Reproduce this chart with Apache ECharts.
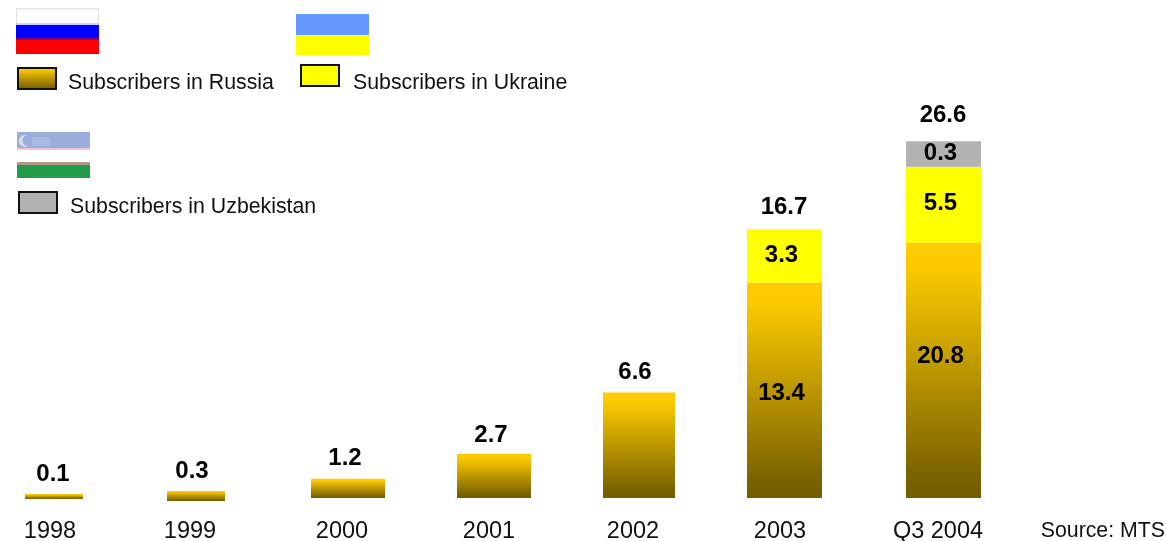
<!DOCTYPE html>
<html>
<head>
<meta charset="utf-8">
<style>
  html, body { margin: 0; padding: 0; background: #fff; }
  #chart { width: 1166px; height: 541px; }
</style>
</head>
<body>
<div id="chart"></div>
<script src="https://cdn.jsdelivr.net/npm/echarts@6/dist/echarts.min.js"></script>
<script>
const categories = ['1998', '1999', '2000', '2001', '2002', '2003', 'Q3 2004']

// printed figures
const totalLabels = ['0.1', '0.3', '1.2', '2.7', '6.6', '16.7', '26.6']
const russiaLabels = ['', '', '', '', '', '13.4', '20.8']
const ukraineLabels = ['', '', '', '', '', '3.3', '5.5']
const uzbekLabels = ['', '', '', '', '', '', '0.3']

// bar heights as drawn, the source graphic is not to scale
const russiaHeights = [0.31, 0.63, 1.2, 2.75, 6.6, 13.45, 15.95]
const ukraineHeights = [0, 0, 0, 0, 0, 3.35, 4.75]
const uzbekHeights = [0, 0, 0, 0, 0, 0, 1.6]

// hand placed layout of the original, in px
const barWidths = [58, 58, 74, 74, 72, 75, 75]
const barNudgeX = [0, -6, -2, -4, -7, -9.5, 1.5]
const barNudgeY = [1, 3, 0, 0, 0, 0, 0]
const totalNudgeX = [-1, -10, -5, -7, -11, -10, 1]
const totalGap = [20, 20, 20, 19, 20, 22, 26]
const labelNudgeX = [-4, -12, -8, -9, -13, -14, -4]
const russiaTextNudgeY = [0, 0, 0, 0, 0, 3, -14]
const upperTextNudgeY = [0, 0, 0, 0, 0, -1, -1]

const FONT = '"Liberation Sans", Arial, sans-serif'
const russiaFill = {
  type: 'linear', x: 0, y: 0, x2: 0, y2: 1,
  colorStops: [
    { offset: 0, color: '#ffcc00' },
    { offset: 0.1, color: '#fbc900' },
    { offset: 0.9, color: '#7d6400' },
    { offset: 1, color: '#735c00' }
  ]
}
const ukraineFill = '#ffff00'
const uzbekFill = '#b2b2b2'

function segment(heights, below, fill, labels, textNudgeY, textDx) {
  return function (params, api) {
    const i = api.value(0)
    const h = heights[i]
    if (!h) {
      return null
    }
    const start = below.reduce((sum, arr) => sum + arr[i], 0)
    const top = api.coord([i, start + h])
    const bottom = api.coord([i, start])
    const w = barWidths[i]
    const cx = top[0] + barNudgeX[i]
    const dy = barNudgeY[i]
    const children = [{
      type: 'rect',
      shape: { x: cx - w / 2, y: top[1] + dy, width: w, height: bottom[1] - top[1] },
      style: { fill: fill }
    }]
    if (labels[i]) {
      children.push({
        type: 'text',
        style: {
          text: labels[i],
          x: cx + textDx,
          y: (top[1] + bottom[1]) / 2 + textNudgeY[i],
          align: 'center',
          verticalAlign: 'middle',
          fill: '#000',
          fontFamily: FONT,
          fontWeight: 'bold',
          fontSize: 24
        }
      })
    }
    return { type: 'group', children: children }
  }
}

function renderTotal(params, api) {
  const i = api.value(0)
  const sum = russiaHeights[i] + ukraineHeights[i] + uzbekHeights[i]
  const top = api.coord([i, sum])
  return {
    type: 'text',
    style: {
      text: totalLabels[i],
      x: top[0] + totalNudgeX[i],
      y: top[1] + barNudgeY[i] - totalGap[i],
      align: 'center',
      verticalAlign: 'middle',
      fill: '#000',
      fontFamily: FONT,
      fontWeight: 'bold',
      fontSize: 24
    }
  }
}

// textDrop is how far the text sits below the middle of the swatch
function legendFor(name, left, top, fill, textDrop, textGap) {
  return {
    left: left,
    top: top,
    padding: 0,
    orient: 'horizontal',
    selectedMode: false,
    itemWidth: 38,
    itemHeight: 21,
    itemGap: 0,
    data: [{
      name: name,
      icon: 'rect',
      itemStyle: { color: fill, borderColor: '#111', borderWidth: 2 }
    }],
    formatter: n => '{a|' + n + '}',
    textStyle: {
      rich: {
        a: {
          fontFamily: FONT,
          fontSize: 21.3,
          color: '#111',
          padding: [textDrop * 2, 0, 0, textGap]
        }
      }
    }
  }
}

function band(x, y, width, height, fill) {
  return { type: 'rect', shape: { x: x, y: y, width: width, height: height }, style: { fill: fill } }
}

const flags = [
  // Russia
  band(16, 8, 83, 16, '#e6e6e6'),
  band(17.5, 9.5, 80, 14, '#ffffff'),
  band(16, 23, 83, 2, '#ccd0ff'),
  band(16, 25, 83, 13, '#0000ff'),
  band(16, 38, 83, 2, '#800080'),
  band(16, 40, 83, 14, '#ff0000'),
  // Ukraine
  band(296, 14, 73, 21, '#6699ff'),
  band(296, 35, 73, 20, '#ffff00'),
  // Uzbekistan
  band(17, 132, 73, 16, '#99aedb'),
  band(17, 148, 73, 2, '#eec4d4'),
  band(17, 162, 73, 3, '#b09a8c'),
  band(17, 165, 73, 13, '#229c47'),
  { type: 'circle', shape: { cx: 25, cy: 141, r: 6 }, style: { fill: '#d5def2' } },
  { type: 'circle', shape: { cx: 28, cy: 140.5, r: 5.5 }, style: { fill: '#99aedb' } },
  band(32, 137, 18, 9, '#a6b9e0'),
  {
    type: 'text',
    right: 1,
    top: 521,
    style: { text: 'Source: MTS', fontFamily: FONT, fontSize: 21.3, fill: '#111' }
  }
]

const ids = categories.map((c, i) => [i])

const chart = echarts.init(document.getElementById('chart'))
chart.setOption({
  animation: false,
  backgroundColor: '#fff',
  grid: { left: 54, right: 224, top: 98, bottom: 43, outerBoundsMode: 'none' },
  xAxis: {
    type: 'category',
    data: categories,
    boundaryGap: false,
    axisLine: { show: false },
    axisTick: { show: false },
    axisLabel: {
      interval: 0,
      margin: 22,
      fontFamily: FONT,
      fontSize: 23.5,
      color: '#111',
      formatter: (value, index) => '{c' + index + '|' + value + '}',
      rich: Object.fromEntries(labelNudgeX.map((d, i) => ['c' + i, {
        fontFamily: FONT,
        fontSize: 23.5,
        color: '#111',
        padding: [0, -2 * d, 0, 0]
      }]))
    }
  },
  yAxis: { type: 'value', min: 0, max: 25, show: false, splitLine: { show: false } },
  legend: [
    legendFor('Subscribers in Russia', 17, 67, russiaFill, 4.5, 7),
    legendFor('Subscribers in Ukraine', 300, 64, ukraineFill, 7.5, 9),
    legendFor('Subscribers in Uzbekistan', 18, 191, uzbekFill, 5, 8)
  ],
  graphic: flags,
  series: [
    {
      name: 'Subscribers in Russia',
      type: 'custom',
      data: ids,
      itemStyle: { color: '#ffcc00' },
      renderItem: segment(russiaHeights, [], russiaFill, russiaLabels, russiaTextNudgeY, -3)
    },
    {
      name: 'Subscribers in Ukraine',
      type: 'custom',
      data: ids,
      itemStyle: { color: ukraineFill },
      renderItem: segment(ukraineHeights, [russiaHeights], ukraineFill, ukraineLabels, upperTextNudgeY, -3)
    },
    {
      name: 'Subscribers in Uzbekistan',
      type: 'custom',
      data: ids,
      itemStyle: { color: uzbekFill },
      renderItem: segment(uzbekHeights, [russiaHeights, ukraineHeights], uzbekFill, uzbekLabels, upperTextNudgeY, -3)
    },
    {
      name: 'Total',
      type: 'custom',
      data: ids,
      renderItem: renderTotal
    }
  ]
})
</script>
</body>
</html>
